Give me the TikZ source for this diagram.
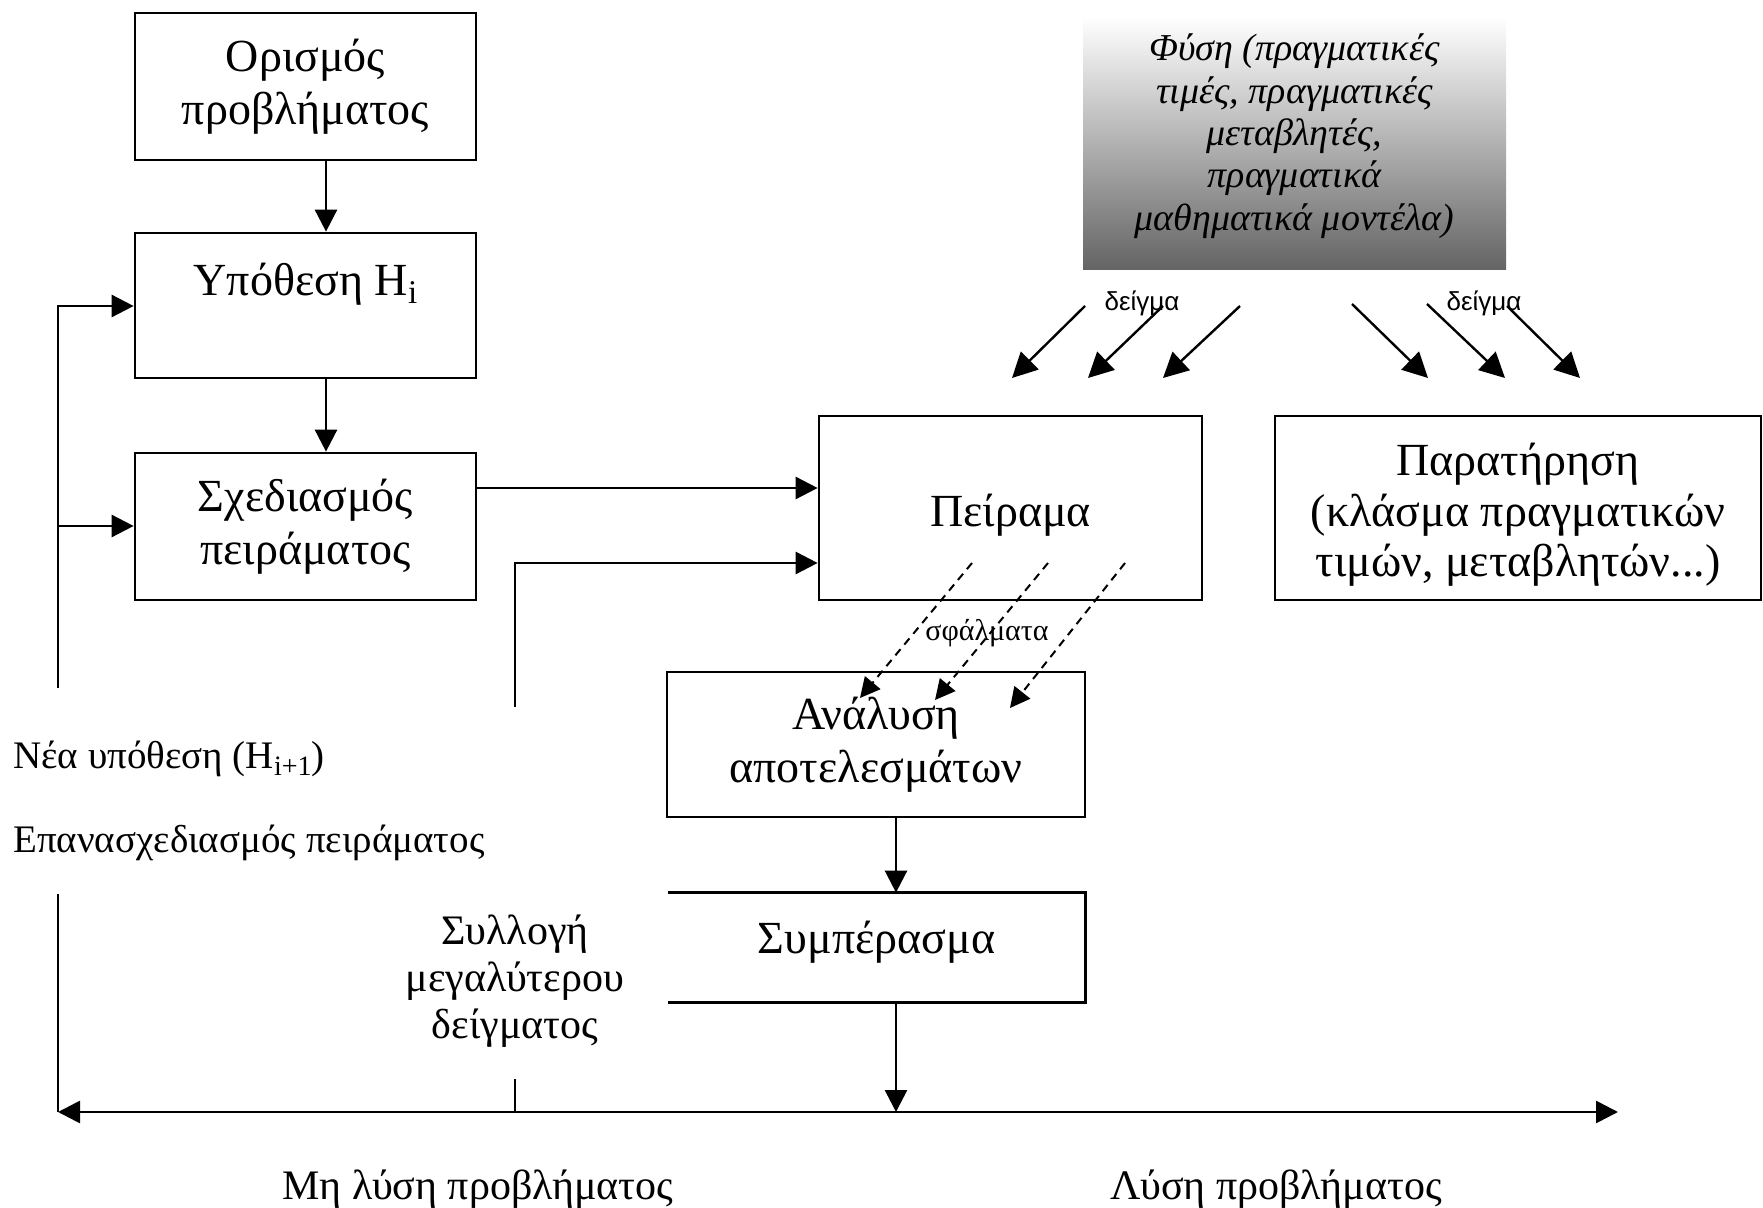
\documentclass[tikz,border=0pt]{standalone}
\usepackage{fontspec}
\setmainfont{Liberation Serif}
\newfontfamily\labelsans{Liberation Sans}
\usetikzlibrary{arrows.meta}

% lowered, smaller index such as the i in H_i
\newcommand\lowidx[1]{\raisebox{-0.4ex}{\scalebox{0.72}{#1}}}

\begin{document}
\begin{tikzpicture}[
  x=0.5pt, y=-0.5pt,
  boxtext/.style={align=center, inner sep=0pt, font=\fontsize{23}{26.5}\selectfont},
  box/.style={draw, line width=1.35pt, boxtext},
  plain/.style={align=center, inner sep=0pt, font=\fontsize{21}{26}\selectfont},
  sidenote/.style={inner sep=0pt, font=\fontsize{19.5}{24}\selectfont},
  flow/.style={line width=1.35pt},
  conn/.style={flow, -{Triangle[length=11pt,width=11pt]}},
  both/.style={flow, {Triangle[length=11pt,width=11pt]}-{Triangle[length=11pt,width=11pt]}},
  samplearrow/.style={line width=1.2pt, -{Triangle[length=12.5pt,width=12.5pt]}},
  errarrow/.style={line width=1pt, dash pattern=on 4pt off 3pt,
                   -{Triangle[length=10pt,width=10pt]}},
  smalllabel/.style={inner sep=0pt, font=\labelsans\fontsize{13}{13}\selectfont},
]
\useasboundingbox (0,0) rectangle (1763,1208);

% ---- main process boxes ----
\node[box, minimum width=170.5pt, minimum height=73.5pt] (def) at (305.5,86.5)
  {Ορισμός\\προβλήματος};
\node[box, minimum width=170.5pt, minimum height=72.5pt] (hyp) at (305.5,305.5)
  {Υπόθεση H\lowidx{i}\\\mbox{}};
\node[box, minimum width=170.5pt, minimum height=73.5pt] (design) at (305.5,526.5)
  {Σχεδιασμός\\πειράματος};

% nature, shaded from white to grey
\node[inner sep=0pt, minimum width=211.5pt, minimum height=126.5pt,
      top color=white, bottom color=black!61,
      label={[align=center, inner sep=0pt, yshift=3.7pt,
              font=\itshape\fontsize{19}{21.2}\selectfont]center:
        Φύση (πραγματικές\\τιμές, πραγματικές\\μεταβλητές,\\πραγματικά\\μαθηματικά μοντέλα)}]
  (nature) at (1294.5,143.5) {};

\node[box, minimum width=191.5pt, minimum height=92pt,
      label={[boxtext, yshift=-3.4pt]center:Πείραμα}] (exp) at (1010.5,508) {};
\node[box, minimum width=243pt, minimum height=92pt,
      label={[boxtext, font=\fontsize{23}{25.3}\selectfont, yshift=-3.4pt]center:
        Παρατήρηση\\(κλάσμα πραγματικών\\τιμών, μεταβλητών...)}] (obs) at (1518,508) {};
\node[box, minimum width=209pt, minimum height=72.5pt] (anal) at (876,744.5)
  {Ανάλυση\\αποτελεσμάτων};

% conclusion box, open on its left side
\node[boxtext, minimum width=208.5pt, minimum height=54.5pt,
      label={[boxtext, yshift=2.8pt]center:Συμπέρασμα}] (concl) at (876.5,947.5) {};
\draw[flow] (concl.north west) -- (concl.north east) -- (concl.south east) -- (concl.south west);

% ---- free texts ----
\node[sidenote, anchor=west] (newhyp) at (13,759) {Νέα υπόθεση (H\lowidx{i+1})};
\node[sidenote, anchor=west] (redesign) at (13,843) {Επανασχεδιασμός πειράματος};
\node[plain, font=\fontsize{21}{23.5}\selectfont] (bigger) at (515,981)
  {Συλλογή\\μεγαλύτερου\\δείγματος};
\node[plain] (nosol) at (478,1189) {Μη λύση προβλήματος};
\node[plain] (sol) at (1276,1189) {Λύση προβλήματος};

% ---- helper coordinates ----
\coordinate (colA) at (326,0);
\coordinate (colB) at (896,0);
\coordinate (rowA) at (0,488);
\coordinate (rowB) at (0,563);
\coordinate (rowC) at (0,306);
\coordinate (rowD) at (0,526);
\coordinate (fbA) at (58,688);
\coordinate (fbB) at (515,707);
\coordinate (fbC) at (58,894);
\coordinate (botL) at (58,1112);
\coordinate (botR) at (1618,1112);
\coordinate (tick) at (515,1079);

% ---- main flow ----
\draw[conn] (def.south -| colA) -- (hyp.north -| colA);
\draw[conn] (hyp.south -| colA) -- (design.north -| colA);
\draw[conn] (design.east |- rowA) -- (exp.west |- rowA);
\draw[conn] (fbB) |- (exp.west |- rowB);
\draw[conn] (fbA) |- (hyp.west |- rowC);
\draw[conn] (fbA |- rowD) -- (design.west |- rowD);
\draw[conn] (anal.south -| colB) -- (concl.north -| colB);
\draw[conn] (concl.south -| colB) -- (botL -| colB);

% ---- outcome line ----
\draw[flow] (fbC) -- (botL);
\draw[both] (botL) -- (botR);
\draw[flow] (tick) -- (tick |- botL);

% ---- samples taken from nature ----
\coordinate (sa1) at (1085,306); \coordinate (ta1) at (1012,378);
\coordinate (sa2) at (1163,306); \coordinate (ta2) at (1088,378);
\coordinate (sa3) at (1240,306); \coordinate (ta3) at (1163,378);
\coordinate (sb1) at (1352,304); \coordinate (tb1) at (1428,378);
\coordinate (sb2) at (1427,304); \coordinate (tb2) at (1505,378);
\coordinate (sb3) at (1507,306); \coordinate (tb3) at (1580,378);
\foreach \s/\t in {sa1/ta1, sa2/ta2, sa3/ta3, sb1/tb1, sb2/tb2, sb3/tb3}
  \draw[samplearrow] (\s) -- (\t);
\node[smalllabel] (sampleA) at (1142,303) {δείγμα};
\node[smalllabel] (sampleB) at (1484,303) {δείγμα};

% ---- errors from the experiment ----
\coordinate (se1) at (972,563);  \coordinate (te1) at (860,698);
\coordinate (se2) at (1048,563); \coordinate (te2) at (935,700);
\coordinate (se3) at (1125,563); \coordinate (te3) at (1010,708);
\foreach \s/\t in {se1/te1, se2/te2, se3/te3}
  \draw[errarrow] (\s) -- (\t);
\node[inner sep=0pt, font=\fontsize{15}{15}\selectfont] (errors) at (987,633) {σφάλματα};
\end{tikzpicture}
\end{document}
